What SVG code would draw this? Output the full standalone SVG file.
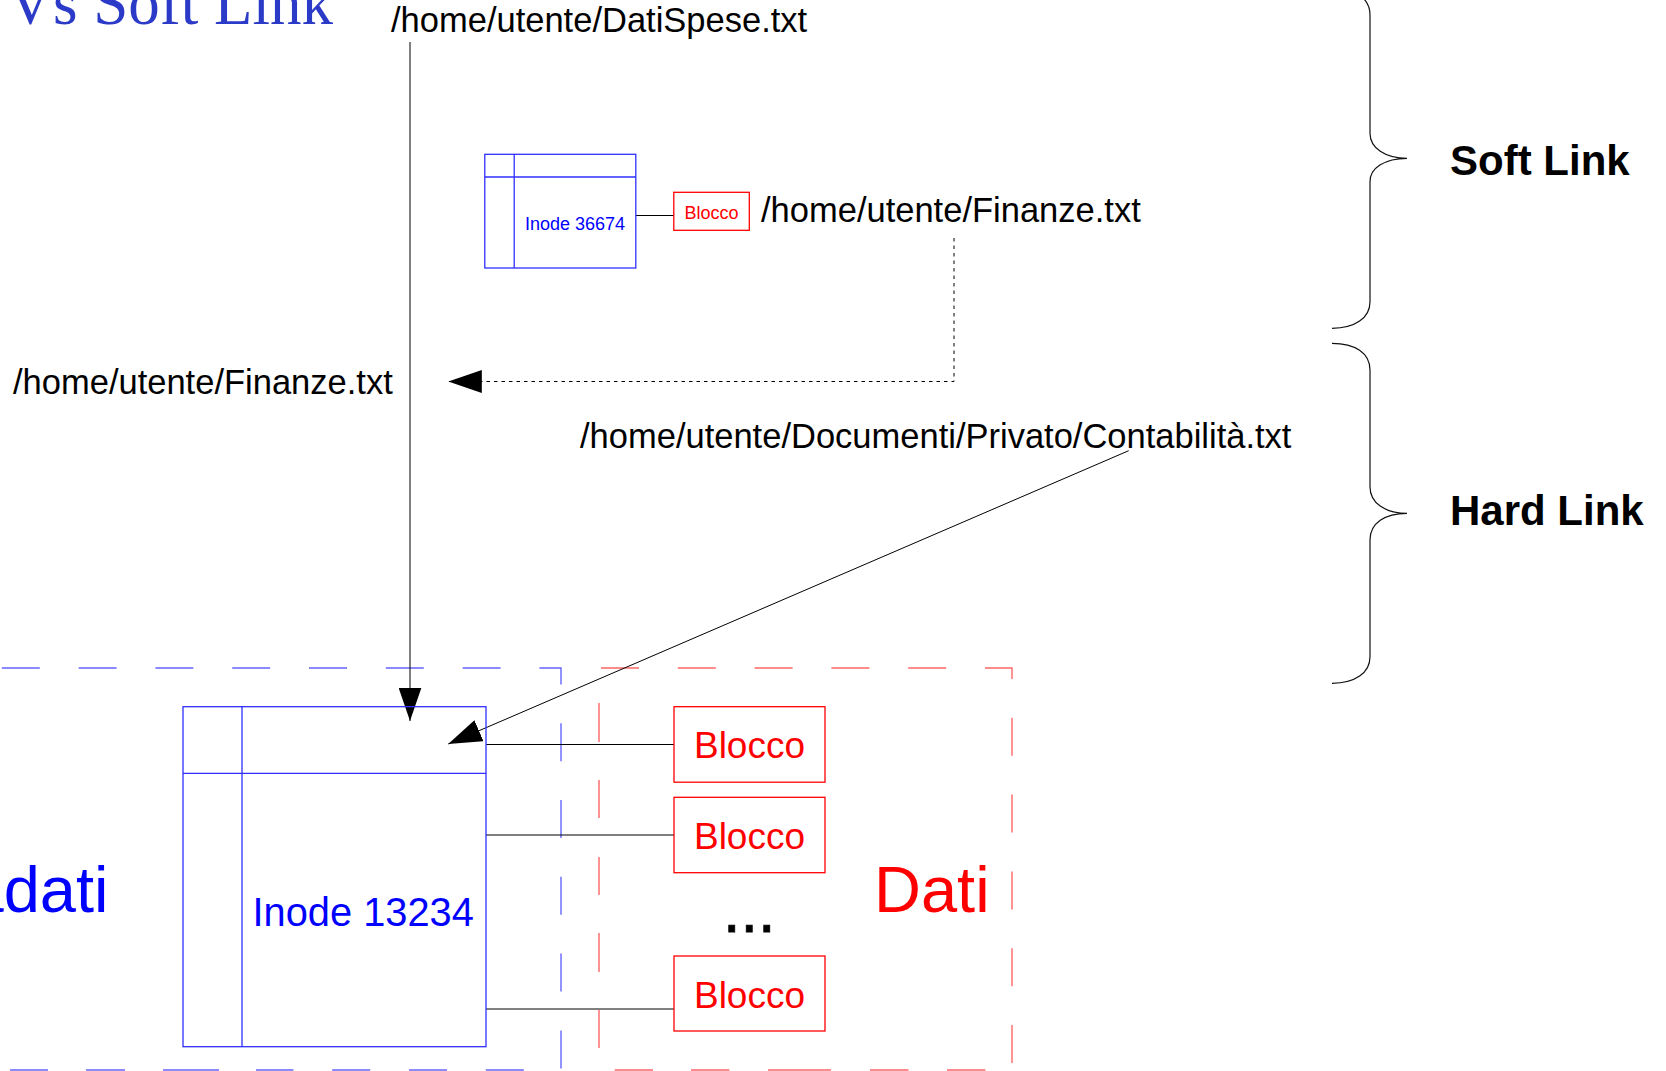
<svg xmlns="http://www.w3.org/2000/svg" width="1666" height="1071" viewBox="0 0 1666 1071">
<style>
.sans{font-family:"Liberation Sans",Arial,sans-serif}
.path{font-family:"Liberation Sans",Arial,sans-serif;font-size:34.5px;fill:#000}
.bold{font-family:"Liberation Sans",Arial,sans-serif;font-size:42px;font-weight:bold;fill:#000}
.blue{fill:#0000ff}
.red{fill:#ff0000}
.ibox{fill:none;stroke:#2f2fff;stroke-width:1.3}
.bbox{fill:none;stroke:#ff0000;stroke-width:1.3}
.conn{fill:none;stroke:#000;stroke-width:1}
.dashb{fill:none;stroke:#6666ff;stroke-width:1.4}
.dashr{fill:none;stroke:#ff6666;stroke-width:1.4}
.brace{fill:none;stroke:#111;stroke-width:1.2}
</style>
<defs>
<marker id="arr" markerUnits="userSpaceOnUse" markerWidth="34" markerHeight="23" refX="33.5" refY="11.5" orient="auto">
<path d="M0,0 L33.5,11.5 L0,23 Z" fill="#000"/>
</marker>
</defs>
<rect width="1666" height="1071" fill="#fff"/>

<g id="title">
<text x="333" y="24" text-anchor="end" style="font-family:'Liberation Serif','Times New Roman',serif;font-size:63px;fill:#2b3bc8">Hard Link Vs Soft Link</text>
</g>

<g id="area-metadati">
<path class="dashb" d="M1.8,668 H561 V1070 H256" stroke-dasharray="38 38.8"/>
<path class="dashb" d="M163,1070 H219 M86,1070 H125 M10,1070 H48"/>
<text class="sans blue" x="108.5" y="912" text-anchor="end" font-size="65">Metadati</text>
</g>

<g id="area-dati">
<path class="dashr" d="M601,668 H1012 V1070" stroke-dasharray="38 38.8"/>
<path class="dashr" d="M614.7,1070 H653 M691,1070 H729.4 M768,1070 H831 M870,1070 H908.5 M947,1070 H985.4 M599,703 V742 M599,780 V818 M599,857 V895 M599,933 V972 M599,1010 V1048"/>
<text class="sans red" x="874" y="912" font-size="65">Dati</text>
</g>

<g id="connectors">
<line class="conn" x1="410" y1="42" x2="410" y2="721" stroke="#222" marker-end="url(#arr)"/>
<line class="conn" x1="1128.7" y1="450.7" x2="448.2" y2="744" marker-end="url(#arr)"/>
<path class="conn" d="M954,238 V381.5 H448.3" stroke="#333" stroke-dasharray="3.5 4" marker-end="url(#arr)"/>
<line class="conn" x1="636" y1="215.5" x2="674" y2="215.5"/>
<line class="conn" x1="486" y1="744.5" x2="674" y2="744.5"/>
<line class="conn" x1="486" y1="835" x2="674" y2="835" stroke="#333"/>
<line class="conn" x1="486" y1="1009" x2="674" y2="1009" stroke="#333"/>
</g>

<g id="inode-36674">
<rect class="ibox" x="484.8" y="154.3" width="151" height="113.7"/>
<line class="ibox" x1="514.2" y1="154.3" x2="514.2" y2="268"/>
<line class="ibox" x1="484.8" y1="177" x2="635.8" y2="177"/>
<text class="sans blue" x="525" y="230" font-size="18">Inode 36674</text>
</g>

<g id="blocco-small">
<rect class="bbox" x="673.8" y="192.3" width="75.5" height="38"/>
<text class="sans red" x="711.5" y="219" font-size="18" text-anchor="middle">Blocco</text>
</g>

<g id="inode-13234">
<rect class="ibox" x="183" y="706.7" width="303" height="340"/>
<line class="ibox" x1="242" y1="706.7" x2="242" y2="1046.7"/>
<line class="ibox" x1="183" y1="773.3" x2="486" y2="773.3"/>
<text class="sans blue" x="252.5" y="926" font-size="39.8">Inode 13234</text>
</g>

<g id="blocco-1">
<rect class="bbox" x="674" y="706.7" width="151" height="75.5"/>
<text class="sans red" x="749.5" y="758.3" font-size="37" text-anchor="middle">Blocco</text>
</g>
<g id="blocco-2">
<rect class="bbox" x="674" y="797.3" width="151" height="75.4"/>
<text class="sans red" x="749.5" y="849.3" font-size="37" text-anchor="middle">Blocco</text>
</g>
<g id="ellipsis">
<text class="sans" x="723" y="932" font-size="63" fill="#000" stroke="#000" stroke-width="0.8">...</text>
</g>
<g id="blocco-3">
<rect class="bbox" x="674" y="956" width="151" height="75"/>
<text class="sans red" x="749.5" y="1008.3" font-size="37" text-anchor="middle">Blocco</text>
</g>

<g id="path-datispese">
<text class="path" x="391" y="32">/home/utente/DatiSpese.txt</text>
</g>
<g id="path-finanze-top">
<text class="path" x="761" y="222">/home/utente/Finanze.txt</text>
</g>
<g id="path-finanze-left">
<text class="path" x="13" y="394">/home/utente/Finanze.txt</text>
</g>
<g id="path-contabilita">
<text class="path" x="580" y="448">/home/utente/Documenti/Privato/Contabilità.txt</text>
</g>

<g id="brace-soft">
<path class="brace" d="M1332,-11.7 C1355,-11.7 1370,-2 1370,15 V133.3 C1370,148 1385,158.3 1407,158.3 C1385,158.3 1370,168 1370,181.7 V301.7 C1370,318 1355,328.3 1332,328.3"/>
<text class="bold" x="1450" y="175">Soft Link</text>
</g>
<g id="brace-hard">
<path class="brace" d="M1332,343.3 C1355,343.3 1370,353 1370,370 V486.7 C1370,503 1385,513.3 1407,513.3 C1385,513.3 1370,523 1370,540 V656.7 C1370,673 1355,683.3 1332,683.3"/>
<text class="bold" x="1450" y="525">Hard Link</text>
</g>
</svg>
